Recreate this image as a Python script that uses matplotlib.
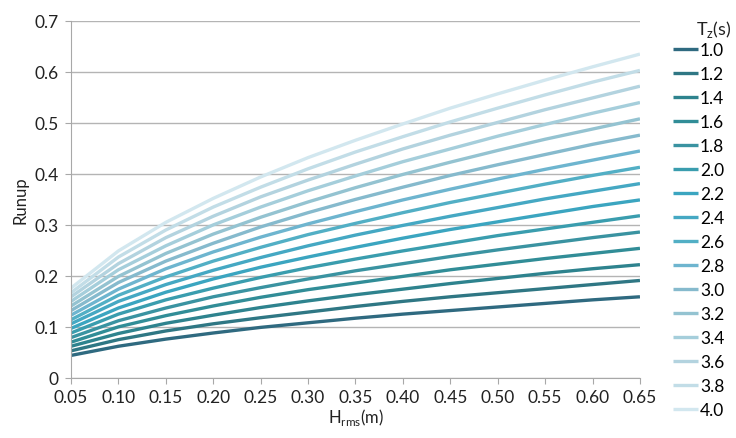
import matplotlib
matplotlib.use("Agg")
import matplotlib.pyplot as plt

plt.rcParams['font.family'] = ['Lato', 'DejaVu Sans']

# Hrms (m) along the x axis
hrms = [0.05, 0.10, 0.15, 0.20, 0.25, 0.30, 0.35, 0.40, 0.45, 0.50, 0.55, 0.60, 0.65]
hrms_labels = ["0.05", "0.10", "0.15", "0.20", "0.25", "0.30", "0.35", "0.40",
               "0.45", "0.50", "0.55", "0.60", "0.65"]

# Tz (s) series
tz_labels = ["1.0", "1.2", "1.4", "1.6", "1.8", "2.0", "2.2", "2.4",
             "2.6", "2.8", "3.0", "3.2", "3.4", "3.6", "3.8", "4.0"]

# runup, one row per Tz
runup_10 = [0.044, 0.062, 0.076, 0.088, 0.099, 0.108, 0.117, 0.125, 0.132, 0.139, 0.146, 0.153, 0.159]
runup_12 = [0.053, 0.075, 0.092, 0.106, 0.118, 0.129, 0.140, 0.150, 0.159, 0.167, 0.175, 0.183, 0.191]
runup_14 = [0.062, 0.087, 0.107, 0.123, 0.138, 0.151, 0.163, 0.174, 0.185, 0.195, 0.205, 0.214, 0.222]
runup_16 = [0.070, 0.100, 0.122, 0.141, 0.158, 0.173, 0.186, 0.199, 0.212, 0.223, 0.234, 0.244, 0.254]
runup_18 = [0.079, 0.112, 0.137, 0.159, 0.177, 0.194, 0.210, 0.224, 0.238, 0.251, 0.263, 0.275, 0.286]
runup_20 = [0.088, 0.125, 0.153, 0.176, 0.197, 0.216, 0.233, 0.249, 0.264, 0.279, 0.292, 0.305, 0.318]
runup_22 = [0.097, 0.137, 0.168, 0.194, 0.217, 0.237, 0.256, 0.274, 0.291, 0.306, 0.321, 0.336, 0.349]
runup_24 = [0.106, 0.150, 0.183, 0.211, 0.236, 0.259, 0.280, 0.299, 0.317, 0.334, 0.351, 0.366, 0.381]
runup_26 = [0.114, 0.162, 0.198, 0.229, 0.256, 0.281, 0.303, 0.324, 0.344, 0.362, 0.380, 0.397, 0.413]
runup_28 = [0.123, 0.174, 0.214, 0.247, 0.276, 0.302, 0.326, 0.349, 0.370, 0.390, 0.409, 0.427, 0.445]
runup_30 = [0.132, 0.187, 0.229, 0.264, 0.296, 0.324, 0.350, 0.374, 0.397, 0.418, 0.438, 0.458, 0.476]
runup_32 = [0.141, 0.199, 0.244, 0.282, 0.315, 0.345, 0.373, 0.399, 0.423, 0.446, 0.468, 0.488, 0.508]
runup_34 = [0.150, 0.212, 0.259, 0.300, 0.335, 0.367, 0.396, 0.424, 0.449, 0.474, 0.497, 0.519, 0.540]
runup_36 = [0.159, 0.224, 0.275, 0.317, 0.355, 0.388, 0.419, 0.449, 0.476, 0.501, 0.526, 0.549, 0.572]
runup_38 = [0.167, 0.237, 0.290, 0.335, 0.374, 0.410, 0.443, 0.473, 0.502, 0.529, 0.555, 0.580, 0.603]
runup_40 = [0.176, 0.249, 0.305, 0.352, 0.394, 0.432, 0.466, 0.498, 0.529, 0.557, 0.584, 0.610, 0.635]

series = [runup_10, runup_12, runup_14, runup_16, runup_18, runup_20, runup_22, runup_24,
          runup_26, runup_28, runup_30, runup_32, runup_34, runup_36, runup_38, runup_40]

colors = ["#2f6a80", "#2f7784", "#2e838e", "#318d97", "#3a93a1", "#3a9dae",
          "#3ba5c0", "#45a8c3", "#52afc5", "#6eb5cf", "#86bacd", "#94c3d1",
          "#a5cedb", "#b3d3df", "#c2dde7", "#d2e7ef"]

fig = plt.figure(figsize=(7.36, 4.39), dpi=100)
ax = fig.add_axes([0.0965, 0.137, 0.773, 0.813])

for vals, lab, col in zip(series, tz_labels, colors):
    ax.plot(hrms, vals, color=col, lw=2.4, label=lab, solid_capstyle="butt")

ax.set_xlim(0.05, 0.65)
ax.set_ylim(0, 0.7)
ax.set_xticks(hrms)
ax.set_xticklabels(hrms_labels)
ax.set_yticks([0, 0.1, 0.2, 0.3, 0.4, 0.5, 0.6, 0.7])
ax.set_yticklabels(["0", "0.1", "0.2", "0.3", "0.4", "0.5", "0.6", "0.7"])
ax.yaxis.grid(True, color="#b4b4b4", lw=1.0)
ax.set_axisbelow(True)

for s in ["top", "right"]:
    ax.spines[s].set_visible(False)
for s in ["left", "bottom"]:
    ax.spines[s].set_color("#a8a8a8")
ax.tick_params(axis="both", colors="#a8a8a8", labelcolor="#222222", labelsize=12.5, length=4)
ax.tick_params(axis="x", pad=4)
ax.tick_params(axis="y", pad=5)

ax.set_ylabel("Runup", fontsize=12, color="#222222", labelpad=4)
ax.set_xlabel("H$_{\\mathregular{rms}}$(m)", fontsize=12, color="#222222", labelpad=1)

# legend title drawn separately so it sits close to the first entry
fig.text(0.946, 0.932, "T$_{\\mathregular{z}}$(s)", fontsize=13, color="#222222",
         ha="left", va="center")
leg = fig.legend(loc="upper left", bbox_to_anchor=(0.905, 0.918), frameon=False,
                 fontsize=12.5, handlelength=1.45, handletextpad=0.1,
                 labelspacing=0.46, borderaxespad=0)

fig.savefig("out.png", dpi=100)
